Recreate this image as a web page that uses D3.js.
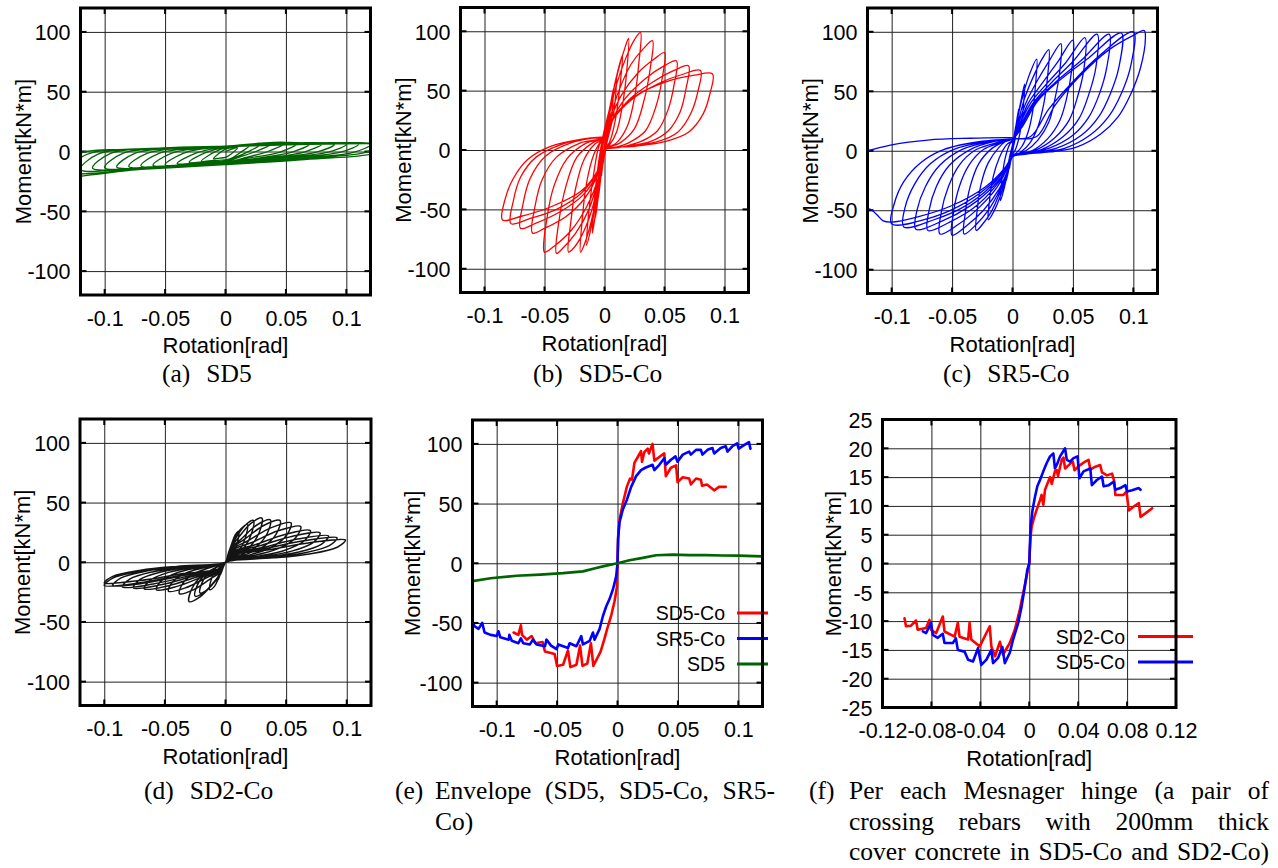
<!DOCTYPE html>
<html>
<head>
<meta charset="utf-8">
<script src="https://cdn.jsdelivr.net/npm/d3@7"></script>
<style>
  body { margin: 0; background: #fff; }
</style>
</head>
<body>
<svg id="fig" width="1278" height="868"></svg>
<script>
// ---- ticks ----
const rotTicks = [-0.1, -0.05, 0, 0.05, 0.1];
const rotTickLabels = ["-0.1", "-0.05", "0", "0.05", "0.1"];
const momTicks = [-100, -50, 0, 50, 100];
const momTickLabels = ["-100", "-50", "0", "50", "100"];
const hingeRotTicks = [-0.12, -0.08, -0.04, 0, 0.04, 0.08, 0.12];
const hingeRotTickLabels = ["-0.12", "-0.08", "-0.04", "0", "0.04", "0.08", "0.12"];
const hingeMomTicks = [-25, -20, -15, -10, -5, 0, 5, 10, 15, 20, 25];
const hingeMomTickLabels = ["-25", "-20", "-15", "-10", "-5", "0", "5", "10", "15", "20", "25"];

// ---- (a) SD5 hysteresis, one array per cycle of [rotation, moment] ----
const sd5Loops = [
  [[0,0],[0.005,2],[0.01,3],[0.006,-1],[0,-5],[-0.005,-5.5],[-0.01,-6],[-0.006,-2],[0,2]],
  [[0.01,4],[0.02,5],[0.012,-1],[0.006,-5],[0,-7],[-0.01,-7.5],[-0.02,-8],[-0.012,-2],[-0.006,1],[0,3]],
  [[0.015,5.5],[0.03,6.5],[0.018,-0.5],[0.009,-4.5],[0,-8],[-0.015,-8.5],[-0.03,-9],[-0.018,-1.5],[-0.009,1.5],[0,3.5]],
  [[0.02,6],[0.04,7],[0.025,0],[0.012,-4.5],[0,-8.5],[-0.02,-9.5],[-0.04,-10],[-0.025,-1.5],[-0.012,2],[0,4]],
  [[0.025,6.5],[0.05,7.5],[0.035,0],[0.017,-5],[0,-9],[-0.025,-10.5],[-0.05,-11],[-0.035,-1.5],[-0.017,2.5],[0,4]],
  [[0.03,6.5],[0.06,7],[0.045,-0.5],[0.022,-5],[0,-9],[-0.03,-11],[-0.06,-11.5],[-0.045,-1.5],[-0.022,2.5],[0,4]],
  [[0.035,6.5],[0.07,6.5],[0.055,-0.5],[0.027,-5.5],[0,-9],[-0.035,-11],[-0.07,-12],[-0.055,-1.5],[-0.027,2.5],[0,4]],
  [[0.04,6.5],[0.08,6.5],[0.065,-0.5],[0.032,-5.5],[0,-9.5],[-0.04,-11.5],[-0.08,-12.5],[-0.065,-1.5],[-0.032,3],[0,4.5]],
  [[0.045,6.5],[0.09,6],[0.075,-0.5],[0.037,-5.5],[0,-9.5],[-0.045,-12],[-0.09,-13],[-0.075,-1.5],[-0.037,3],[0,4.5]],
  [[0.05,6.5],[0.1,6],[0.085,-0.5],[0.042,-5.5],[0,-9.5],[-0.05,-12],[-0.1,-13.5],[-0.085,-1.5],[-0.042,3],[0,4.5]],
  [[0.055,6.5],[0.11,6],[0.095,-0.5],[0.047,-6],[0,-10],[-0.055,-12.5],[-0.11,-14],[-0.095,-1.5],[-0.047,3],[0,4.5]],
  [[0.06,6.5],[0.12,5.8],[0.105,-1],[0.052,-6],[0,-10],[-0.06,-13],[-0.12,-15],[-0.105,-2],[-0.052,3],[0,4.5]],
  [[0.065,6.3],[0.13,5.5],[0.115,-1],[0.057,-6.5],[0,-10.5],[-0.065,-14],[-0.13,-17],[-0.115,-2.5],[-0.057,2.5],[0,4]],
  [[0.07,6],[0.14,5],[0.125,-1.5],[0.062,-7],[0,-11],[-0.07,-15],[-0.14,-19.5],[-0.125,-3],[-0.062,2],[0,3.5]]
];

// ---- (b) SD5-Co hysteresis ----
const sd5CoLoops = [
  [[0,0],[0.001,10],[0.0025,20],[0.0015,10],[0,3],[-0.001,-8],[-0.0025,-22],[-0.0015,-10],[0,4]],
  [[0.002,18],[0.005,38],[0.0035,20],[0.001,5],[-0.002,-14],[-0.005,-40],[-0.0035,-20],[-0.001,6]],
  [[0.003,26],[0.0075,52],[0.0055,26],[0.0015,6],[-0.003,-22],[-0.0075,-57],[-0.0055,-26],[-0.0015,7]],
  [[0.004,32],[0.01,62],[0.0075,30],[0.002,6],[-0.004,-28],[-0.01,-70],[-0.0075,-32],[-0.002,8]],
  [[0.005,38],[0.01,62],[0.015,80],[0.013,55],[0.009,25],[0.004,6],[0,1],[-0.004,-25],[-0.01,-60],[-0.015,-80],[-0.013,-52],[-0.009,-20],[-0.004,5],[0,10]],
  [[0.004,34],[0.011,65],[0.017,86],[0.02,94],[0.0185,66],[0.015,38],[0.01,15],[0.004,4],[0,0],[-0.004,-24],[-0.011,-60],[-0.017,-80],[-0.02,-86],[-0.0185,-58],[-0.015,-28],[-0.009,-4],[-0.004,6],[0,10]],
  [[0.004,30],[0.01,55],[0.018,78],[0.025,93],[0.03,99],[0.0285,72],[0.025,44],[0.019,20],[0.01,6],[0,0],[-0.004,-22],[-0.011,-52],[-0.02,-74],[-0.027,-84],[-0.03,-86],[-0.028,-60],[-0.024,-32],[-0.017,-8],[-0.008,5],[0,10]],
  [[0.005,28],[0.012,50],[0.022,72],[0.033,86],[0.04,92],[0.038,68],[0.033,42],[0.025,18],[0.013,6],[0,0],[-0.004,-20],[-0.013,-50],[-0.024,-70],[-0.035,-83],[-0.04,-87],[-0.038,-60],[-0.032,-30],[-0.023,-6],[-0.01,6],[0,11]],
  [[0.005,26],[0.014,46],[0.028,65],[0.042,77],[0.05,82],[0.048,60],[0.043,37],[0.034,16],[0.02,6],[0.008,2],[0,0],[-0.004,-20],[-0.015,-48],[-0.028,-68],[-0.042,-81],[-0.05,-86],[-0.048,-58],[-0.042,-30],[-0.031,-7],[-0.015,6],[0,11]],
  [[0.006,25],[0.017,43],[0.034,60],[0.05,71],[0.06,75],[0.058,55],[0.053,34],[0.044,16],[0.03,7],[0.012,2],[0,0],[-0.005,-19],[-0.016,-40],[-0.032,-56],[-0.05,-66],[-0.06,-70],[-0.058,-48],[-0.052,-25],[-0.04,-6],[-0.02,6],[0,11]],
  [[0.007,26],[0.02,42],[0.04,57],[0.058,67],[0.07,71],[0.068,52],[0.063,32],[0.053,16],[0.038,7],[0.018,3],[0,0],[-0.005,-18],[-0.018,-38],[-0.037,-52],[-0.058,-62],[-0.07,-66],[-0.068,-46],[-0.062,-24],[-0.049,-5],[-0.028,6],[-0.01,10],[0,11]],
  [[0.008,27],[0.022,42],[0.045,56],[0.066,64],[0.08,67],[0.078,50],[0.072,31],[0.061,15],[0.044,7],[0.02,3],[0,0],[-0.006,-18],[-0.019,-36],[-0.04,-50],[-0.063,-58],[-0.078,-62],[-0.076,-43],[-0.07,-23],[-0.057,-6],[-0.035,5],[-0.012,10],[0,11]],
  [[0.008,28],[0.025,45],[0.05,57],[0.075,63],[0.09,64],[0.088,48],[0.082,30],[0.07,15],[0.05,7],[0.025,3],[0,0],[-0.006,-18],[-0.02,-35],[-0.045,-48],[-0.07,-56],[-0.085,-59],[-0.083,-42],[-0.076,-24],[-0.064,-8],[-0.045,3],[-0.02,9],[0,11]]
];

// ---- (c) SR5-Co hysteresis ----
const sr5CoLoops = [
  [[0,0],[0.0025,20],[0.001,6],[0,1],[-0.0025,-15],[-0.001,-3],[0,3]],
  [[0.002,15],[0.005,35],[0.003,14],[0,0],[-0.002,-10],[-0.005,-25],[-0.003,-8],[0,5]],
  [[0.003,22],[0.007,42],[0.01,56],[0.009,38],[0.006,14],[0.002,0],[0,-3],[-0.003,-14],[-0.007,-32],[-0.01,-42],[-0.009,-26],[-0.006,-6],[-0.002,6],[0,8]],
  [[0.003,22],[0.008,44],[0.014,64],[0.02,77],[0.019,55],[0.017,35],[0.013,16],[0.008,4],[0.003,-2],[0,-4],[-0.003,-14],[-0.008,-32],[-0.014,-48],[-0.02,-58],[-0.019,-42],[-0.016,-22],[-0.011,-6],[-0.005,5],[0,9]],
  [[0.004,22],[0.01,44],[0.018,64],[0.025,78],[0.03,85],[0.029,62],[0.026,40],[0.021,20],[0.014,6],[0.007,-1],[0,-5],[-0.003,-14],[-0.01,-34],[-0.018,-52],[-0.025,-62],[-0.03,-67],[-0.029,-48],[-0.026,-28],[-0.02,-10],[-0.011,3],[-0.004,9],[0,10]],
  [[0.004,20],[0.011,40],[0.02,58],[0.03,75],[0.04,90],[0.039,66],[0.035,43],[0.03,24],[0.021,9],[0.011,0],[0.003,-3],[0,-5],[-0.003,-14],[-0.01,-32],[-0.02,-50],[-0.03,-62],[-0.04,-70],[-0.039,-52],[-0.035,-30],[-0.028,-11],[-0.017,2],[-0.006,8],[0,10]],
  [[0.005,20],[0.013,40],[0.024,56],[0.037,74],[0.05,93],[0.049,68],[0.045,45],[0.039,25],[0.029,10],[0.016,0],[0.004,-3],[0,-5],[-0.003,-14],[-0.011,-32],[-0.024,-50],[-0.038,-63],[-0.05,-71],[-0.049,-53],[-0.044,-30],[-0.036,-12],[-0.024,1],[-0.009,7],[0,10]],
  [[0.005,20],[0.015,40],[0.028,56],[0.044,74],[0.06,95],[0.059,68],[0.054,46],[0.047,26],[0.035,11],[0.02,1],[0.005,-3],[0,-5],[-0.004,-14],[-0.013,-31],[-0.028,-48],[-0.045,-62],[-0.06,-70],[-0.059,-52],[-0.053,-30],[-0.044,-12],[-0.03,1],[-0.012,7],[0,10]],
  [[0.006,20],[0.017,40],[0.032,57],[0.05,75],[0.07,98],[0.069,70],[0.063,47],[0.055,27],[0.042,12],[0.024,1],[0.007,-3],[0,-5],[-0.004,-14],[-0.015,-31],[-0.032,-48],[-0.052,-60],[-0.07,-67],[-0.069,-50],[-0.063,-30],[-0.052,-12],[-0.035,1],[-0.014,8],[0,10]],
  [[0.007,20],[0.019,41],[0.036,58],[0.057,76],[0.08,98],[0.078,70],[0.072,48],[0.063,28],[0.05,13],[0.03,2],[0.008,-3],[0,-5],[-0.004,-14],[-0.016,-30],[-0.036,-47],[-0.058,-59],[-0.08,-66],[-0.079,-50],[-0.072,-30],[-0.06,-12],[-0.042,1],[-0.017,8],[0,10]],
  [[0.008,20],[0.021,42],[0.04,60],[0.063,78],[0.09,99],[0.088,70],[0.081,48],[0.071,28],[0.057,13],[0.036,2],[0.009,-3],[0,-5],[-0.005,-14],[-0.018,-30],[-0.04,-47],[-0.065,-58],[-0.09,-64],[-0.089,-48],[-0.081,-28],[-0.068,-11],[-0.049,1],[-0.02,8],[0,10]],
  [[0.015,12],[0.03,35],[0.05,58],[0.072,80],[0.1,100],[0.098,72],[0.09,48],[0.079,28],[0.064,13],[0.043,2],[0.01,-3],[0,-5],[-0.005,-14],[-0.02,-30],[-0.045,-47],[-0.07,-57],[-0.1,-61.5],[-0.098,-45],[-0.09,-26],[-0.076,-10],[-0.057,1],[-0.025,8],[0,10]],
  [[0.02,12],[0.035,38],[0.055,62],[0.08,85],[0.1,97],[0.109,101],[0.11,96],[0.106,70],[0.098,48],[0.087,28],[0.073,14],[0.053,3],[0.031,-1],[0.009,-3],[0,-5],[-0.006,-14],[-0.022,-30],[-0.05,-46],[-0.08,-56],[-0.1,-60],[-0.107,-59],[-0.112,-54],[-0.118,-49],[-0.124,-50],[-0.135,-45],[-0.14,-20],[-0.128,-2],[-0.12,0],[-0.1,5],[-0.07,9],[-0.035,10.5],[-0.005,11],[0,11]]
];

// ---- (d) SD2-Co hysteresis ----
const sd2CoLoops = [
  [[0,0],[0.002,5],[0.0035,10],[0.005,15],[0.004,9],[0.002,3],[0,0],
   [-0.002,-4.4],[-0.004,-9],[-0.006,-14.5],[-0.0053,-9],[-0.003,-3],[0,0]],
  [[0.0025,8],[0.005,15],[0.008,23],[0.011,26],[0.0102,18],[0.0077,10],[0.0045,5],[0.002,2],[0,0],
   [-0.003,-6.9],[-0.0055,-12.7],[-0.0091,-20.2],[-0.013,-23],[-0.0121,-15.6],[-0.0091,-8.7],[-0.0052,-4.6],[-0.002,-1.8],[0,0]],
  [[0.003,9.5],[0.0063,17.4],[0.0126,27.8],[0.018,31.6],[0.0167,21.5],[0.0126,12],[0.0072,6.3],[0.003,2.5],[0,0],
   [-0.004,-7.7],[-0.0074,-14.1],[-0.0147,-22.6],[-0.021,-25.7],[-0.0195,-17.5],[-0.0147,-9.8],[-0.0084,-5.1],[-0.004,-2.1],[0,0]],
  [[0.004,10.5],[0.008,19.3],[0.0161,30.8],[0.023,35],[0.0214,23.8],[0.0161,13.3],[0.0092,7],[0.004,2.8],[0,0],
   [-0.004,-8.6],[-0.0088,-15.7],[-0.0175,-25.1],[-0.025,-28.5],[-0.0233,-19.4],[-0.0175,-10.8],[-0.01,-5.7],[-0.005,-2.3],[0,0]],
  [[0.004,11.1],[0.0105,20.4],[0.021,32.6],[0.03,37],[0.0279,25.2],[0.021,14.1],[0.012,7.4],[0.005,3],[0,0],
   [-0.004,-9.9],[-0.0105,-18.2],[-0.021,-29],[-0.03,-33],[-0.0279,-22.4],[-0.021,-12.5],[-0.012,-6.6],[-0.005,-2.6],[0,0]],
  [[0.004,10.7],[0.013,19.5],[0.0259,31.2],[0.037,35.5],[0.0344,24.1],[0.0259,13.5],[0.0148,7.1],[0.006,2.8],[0,0],
   [-0.004,-7.9],[-0.0133,-14.5],[-0.0266,-23.1],[-0.038,-26.3],[-0.0353,-17.9],[-0.0266,-10],[-0.0152,-5.3],[-0.006,-2.1],[0,0]],
  [[0.004,10.5],[0.0158,19.3],[0.0315,30.8],[0.045,35],[0.0419,23.8],[0.0315,13.3],[0.018,7],[0.006,2.8],[0,0],
   [-0.004,-7.3],[-0.0165,-13.4],[-0.0329,-21.4],[-0.047,-24.3],[-0.0437,-16.5],[-0.0329,-9.2],[-0.0188,-4.9],[-0.006,-1.9],[0,0]],
  [[0.004,9.9],[0.0189,18.2],[0.0378,29],[0.054,33],[0.0502,22.4],[0.0378,12.5],[0.0216,6.6],[0.006,2.6],[0,0],
   [-0.004,-6.9],[-0.02,-12.7],[-0.0399,-20.2],[-0.057,-23],[-0.053,-15.6],[-0.0399,-8.7],[-0.0228,-4.6],[-0.006,-1.8],[0,0]],
  [[0.004,9],[0.0217,16.5],[0.0434,26.4],[0.062,30],[0.0577,20.4],[0.0434,11.4],[0.0248,6],[0.006,2.4],[0,0],
   [-0.004,-6.7],[-0.0235,-12.3],[-0.0469,-19.6],[-0.067,-22.3],[-0.0623,-15.2],[-0.0469,-8.5],[-0.0268,-4.5],[-0.006,-1.8],[0,0]],
  [[0.004,8],[0.0245,14.6],[0.049,23.3],[0.07,26.5],[0.0651,18],[0.049,10.1],[0.028,5.3],[0.006,2.1],[0,0],
   [-0.004,-6.5],[-0.0266,-11.8],[-0.0532,-18.9],[-0.076,-21.5],[-0.0707,-14.6],[-0.0532,-8.2],[-0.0304,-4.3],[-0.006,-1.7],[0,0]],
  [[0.004,7.4],[0.0273,13.5],[0.0546,21.6],[0.078,24.6],[0.0725,16.7],[0.0546,9.3],[0.0312,4.9],[0.006,2],[0,0],
   [-0.004,-6.2],[-0.0298,-11.4],[-0.0595,-18.2],[-0.085,-20.7],[-0.079,-14.1],[-0.0595,-7.9],[-0.034,-4.1],[-0.006,-1.7],[0,0]],
  [[0.004,6.6],[0.0298,12.1],[0.0595,19.4],[0.085,22],[0.079,15],[0.0595,8.4],[0.034,4.4],[0.006,1.8],[0,0],
   [-0.004,-5.9],[-0.0326,-10.7],[-0.0651,-17.2],[-0.093,-19.5],[-0.0865,-13.3],[-0.0651,-7.4],[-0.0372,-3.9],[-0.006,-1.6],[0,0]],
  [[0.004,6.2],[0.0322,11.3],[0.0644,18],[0.092,20.5],[0.0856,13.9],[0.0644,7.8],[0.0368,4.1],[0.006,1.6],[0,0],
   [-0.004,-5.2],[-0.035,-9.5],[-0.07,-15.2],[-0.1,-17.3],[-0.093,-11.8],[-0.07,-6.6],[-0.04,-3.5],[-0.006,-1.4],[0,0]],
  [[0.004,5.6],[0.0347,10.2],[0.0693,16.3],[0.099,18.5],[0.0921,12.6],[0.0693,7],[0.0396,3.7],[0.006,1.5],[0,0],
   [-0.004,-5.9],[-0.035,-10.7],[-0.07,-17.2],[-0.1,-19.5],[-0.093,-13.3],[-0.07,-7.4],[-0.04,-3.9],[-0.006,-1.6],[0,0]]
];

// ---- (e) envelopes ----
const envSD5Co = [[-0.086,-58],[-0.082,-60],[-0.080,-52],[-0.079,-60],[-0.075,-64],[-0.071,-61],[-0.068,-67],[-0.062,-66],[-0.060,-74],[-0.052,-76],[-0.050,-86],[-0.045,-85],[-0.041,-73],[-0.039,-87],[-0.034,-85],[-0.031,-69],[-0.029,-86],[-0.025,-84],[-0.022,-67],[-0.020,-86],[-0.017,-80],[-0.014,-74],[-0.011,-64],[-0.008,-53],[-0.005,-43],[-0.0025,-32],[-0.0005,-20],[0,0],[0.0005,22],[0.0016,36],[0.0044,50],[0.0077,64],[0.0104,71],[0.012,70],[0.014,84],[0.0168,89],[0.0195,94],[0.0203,85],[0.0222,93],[0.025,96],[0.026,92],[0.029,100],[0.0305,86],[0.0346,89],[0.0387,92],[0.040,73],[0.0442,80],[0.0485,82],[0.0497,68],[0.054,72],[0.0593,71],[0.0607,66],[0.065,71],[0.069,70],[0.070,65],[0.074,66],[0.079,62],[0.080,61],[0.084,64],[0.0896,64]];
const envSR5Co = [[-0.12,-50],[-0.118,-53],[-0.115,-55],[-0.112,-50],[-0.11,-58],[-0.105,-60],[-0.100,-61],[-0.0985,-57],[-0.097,-62],[-0.090,-64],[-0.0895,-60],[-0.0875,-65],[-0.082,-67],[-0.080,-63],[-0.078,-67],[-0.0725,-68],[-0.070,-64],[-0.067,-68],[-0.060,-69.5],[-0.0588,-64],[-0.055,-69],[-0.0505,-72],[-0.049,-68],[-0.041,-71],[-0.0396,-67],[-0.034,-69.5],[-0.030,-61],[-0.0286,-68],[-0.023,-65],[-0.0203,-58],[-0.019,-64],[-0.0148,-55],[-0.012,-44],[-0.0093,-36],[-0.0066,-30],[-0.0038,-22],[-0.0011,-11],[0,0],[0.0005,20],[0.0016,34],[0.0044,45],[0.0077,53],[0.0113,64],[0.0154,73],[0.0195,78],[0.023,80],[0.029,82.5],[0.0305,78],[0.0346,82.5],[0.0387,88],[0.040,82.5],[0.044,86.5],[0.048,89.5],[0.0497,85],[0.054,91],[0.0593,93.5],[0.0607,91],[0.065,95],[0.069,95],[0.0703,91],[0.0745,95],[0.0786,96.5],[0.080,92],[0.0854,96.5],[0.0896,98],[0.091,93.5],[0.095,98],[0.099,100.5],[0.1003,96],[0.1047,99],[0.1088,101.5],[0.110,96]];
const envSD5 = [[-0.12,-15],[-0.105,-12.5],[-0.0835,-10.5],[-0.064,-9.5],[-0.045,-8.3],[-0.0286,-6.8],[-0.0176,-4],[-0.0093,-2],[0,0],[0.0099,2.5],[0.0209,4.5],[0.0319,6.7],[0.0456,7.2],[0.0593,6.8],[0.073,6.8],[0.0868,6.5],[0.1,6.4],[0.12,5.8]];
const envNames = ["SD5-Co", "SR5-Co", "SD5"];

// ---- (f) per Mesnager hinge ----
const hingeSD2Co = [[-0.102,-9.5],[-0.1008,-10.9],[-0.0967,-10.8],[-0.0926,-9.9],[-0.0912,-11.5],[-0.0844,-11.2],[-0.0816,-9.8],[-0.0803,-11.5],[-0.0762,-12.1],[-0.0707,-9.2],[-0.0693,-11.8],[-0.061,-12.7],[-0.0584,-10.3],[-0.057,-12.7],[-0.05,-13.2],[-0.0488,-10.3],[-0.0474,-13.2],[-0.0405,-14.4],[-0.0323,-10.9],[-0.031,-14.4],[-0.028,-16.1],[-0.024,-13.6],[-0.0214,-15.8],[-0.0159,-13.8],[-0.0118,-11.5],[-0.0077,-8],[-0.0049,-5.1],[-0.0022,-2.3],[0,0],[0.0005,2.4],[0.0011,4.7],[0.002,6.4],[0.004,8],[0.006,9.3],[0.0088,11],[0.0101,11.9],[0.0115,10.2],[0.0129,12.8],[0.017,15],[0.0184,13.8],[0.021,16],[0.0225,16.2],[0.0235,15.2],[0.0266,18],[0.028,18.4],[0.0293,16.5],[0.0334,17.3],[0.0356,17.7],[0.037,16.2],[0.041,17],[0.0458,17.7],[0.0485,18],[0.0499,16.3],[0.054,16.8],[0.058,17.1],[0.0595,15.8],[0.0636,15.3],[0.0677,15.6],[0.0696,14.2],[0.0704,11.9],[0.077,11.9],[0.0795,12.5],[0.0814,9.2],[0.0855,9.9],[0.0896,10.5],[0.091,8.1],[0.095,8.7],[0.1005,9.6]];
const hingeSD5Co = [[-0.087,-11.8],[-0.0844,-12.1],[-0.0803,-10.3],[-0.0789,-12.4],[-0.0748,-12.9],[-0.0707,-12.2],[-0.0693,-13.8],[-0.0625,-13.8],[-0.06,-13],[-0.0584,-15],[-0.0529,-15.3],[-0.05,-16.7],[-0.046,-17],[-0.0419,-14.7],[-0.0392,-17.6],[-0.035,-16.7],[-0.031,-15],[-0.0296,-17.3],[-0.0255,-16.4],[-0.022,-14.5],[-0.02,-17.3],[-0.0159,-15.5],[-0.0132,-13.2],[-0.009,-10.3],[-0.0063,-7.5],[-0.0036,-4],[-0.0016,-1.1],[0,0],[0.0011,6.4],[0.0027,9.3],[0.0047,11.6],[0.0066,13.4],[0.0088,14.5],[0.0115,16],[0.0142,17.4],[0.017,18.6],[0.0197,19.1],[0.021,16.5],[0.0225,17.1],[0.0252,18.6],[0.0293,20],[0.0307,18],[0.0334,17.7],[0.0362,18.3],[0.0395,18.6],[0.041,14.8],[0.0444,16],[0.0499,16.5],[0.0512,13.6],[0.0553,14.5],[0.0595,15.1],[0.0608,13.4],[0.065,13.6],[0.069,14.2],[0.0704,12.8],[0.0745,13.1],[0.0786,13.6],[0.08,12.5],[0.0841,12.7],[0.0896,13.1],[0.091,12.8]];
const hingeNames = ["SD2-Co", "SD5-Co"];

// ---- captions ----
const captionLabels = ["(a)", "(b)", "(c)", "(d)", "(e)", "(f)"];
const captionTexts = [
  ["SD5"], ["SD5-Co"], ["SR5-Co"], ["SD2-Co"],
  ["Envelope (SD5, SD5-Co, SR5-", "Co)"],
  ["Per each Mesnager hinge (a pair of", "crossing rebars with 200mm thick", "cover concrete in SD5-Co and SD2-Co)"]
];

const RED = "#ff0000", BLUE = "#0000ff", GREEN = "#006400", BLACK = "#141414";
const SANS = "'Liberation Sans', Arial, Helvetica, sans-serif";
const SERIF = "'Liberation Serif', 'Times New Roman', serif";
const TICK_SIZE = 21.5, TITLE_SIZE = 22, LEG_SIZE = 19.5, CAP_SIZE = 25.5;

const svg = d3.select("#fig");
const defs = svg.append("defs");

const stdAxes = { xTicks: rotTicks, xLabels: rotTickLabels, yTicks: momTicks, yLabels: momTickLabels, yDomain: [-120, 120] };
const panels = [
  Object.assign({ id: "a", left: 80.5, top: 8, width: 290, height: 287, ylab: -50,
    loops: sd5Loops, color: GREEN, lw: 1.3 }, stdAxes),
  Object.assign({ id: "b", left: 460.5, top: 7.5, width: 288, height: 285, ylab: -50,
    loops: sd5CoLoops, color: RED, lw: 1.3 }, stdAxes),
  Object.assign({ id: "c", left: 867.5, top: 8, width: 290, height: 285.5, ylab: -50,
    loops: sr5CoLoops, color: BLUE, lw: 1.3 }, stdAxes),
  Object.assign({ id: "d", left: 80, top: 419, width: 291, height: 286.5, ylab: -50,
    loops: sd2CoLoops, color: BLACK, lw: 1.5 }, stdAxes),
  Object.assign({ id: "e", left: 472.5, top: 420, width: 290, height: 286.5, ylab: -53,
    curves: [envSD5Co, envSR5Co, envSD5], colors: [RED, BLUE, GREEN], names: envNames,
    legend: { textX: 725, lineX0: 737, lineX1: 768, rows: [613, 638.5, 664] } }, stdAxes),
  { id: "f", left: 882.5, top: 419.5, width: 293.5, height: 288, ylab: -42,
    xTicks: hingeRotTicks, xLabels: hingeRotTickLabels, yTicks: hingeMomTicks, yLabels: hingeMomTickLabels,
    yDomain: [-25, 25],
    curves: [hingeSD2Co, hingeSD5Co], colors: [RED, BLUE], names: hingeNames,
    legend: { textX: 1125, lineX0: 1138, lineX1: 1193, rows: [636.5, 662] } }
];

function drawPanel(p) {
  const g = svg.append("g").attr("class", "panel-" + p.id);
  const x = d3.scaleLinear().domain([-0.12, 0.12]).range([p.left, p.left + p.width]);
  const y = d3.scaleLinear().domain(p.yDomain).range([p.top + p.height, p.top]);
  const bottom = p.top + p.height, right = p.left + p.width;

  // grid lines
  const gx = g.append("g").attr("transform", `translate(0,${bottom})`)
    .call(d3.axisBottom(x).tickValues(p.xTicks).tickSize(-p.height).tickFormat(""));
  const gy = g.append("g").attr("transform", `translate(${p.left},0)`)
    .call(d3.axisLeft(y).tickValues(p.yTicks).tickSize(-p.width).tickFormat(""));
  [gx, gy].forEach(a => {
    a.select(".domain").remove();
    a.selectAll("line").attr("stroke", "#222").attr("stroke-width", 1);
  });

  // inner tick marks on the frame
  const tk = g.append("g").attr("stroke", "#000").attr("stroke-width", 2);
  p.yTicks.forEach(v => {
    tk.append("line").attr("x1", p.left).attr("x2", p.left + 6).attr("y1", y(v)).attr("y2", y(v));
    tk.append("line").attr("x1", right - 6).attr("x2", right).attr("y1", y(v)).attr("y2", y(v));
  });
  p.xTicks.forEach(v => {
    tk.append("line").attr("y1", p.top).attr("y2", p.top + 6).attr("x1", x(v)).attr("x2", x(v));
    tk.append("line").attr("y1", bottom - 6).attr("y2", bottom).attr("x1", x(v)).attr("x2", x(v));
  });

  // tick labels
  const lx = g.append("g").attr("transform", `translate(0,${bottom})`)
    .call(d3.axisBottom(x).tickValues(p.xTicks).tickSize(0).tickPadding(15.5)
      .tickFormat((d, i) => p.xLabels[i]));
  const ly = g.append("g").attr("transform", `translate(${p.left},0)`)
    .call(d3.axisLeft(y).tickValues(p.yTicks).tickSize(0).tickPadding(10)
      .tickFormat((d, i) => p.yLabels[i]));
  [lx, ly].forEach(a => {
    a.select(".domain").remove();
    a.attr("font-family", SANS).attr("font-size", TICK_SIZE);
    a.selectAll("text").attr("fill", "#000");
  });
  ly.selectAll("text").attr("dy", "0.36em");

  // axis titles
  g.append("text").attr("x", p.left + p.width / 2).attr("y", bottom + 58)
    .attr("text-anchor", "middle").attr("font-family", SANS).attr("font-size", TITLE_SIZE)
    .text("Rotation[rad]");
  g.append("text")
    .attr("transform", `translate(${p.left + p.ylab},${p.top + p.height / 2}) rotate(-90)`)
    .attr("text-anchor", "middle").attr("font-family", SANS).attr("font-size", TITLE_SIZE)
    .text("Moment[kN*m]");

  // data
  defs.append("clipPath").attr("id", "clip-" + p.id)
    .append("rect").attr("x", p.left).attr("y", p.top).attr("width", p.width).attr("height", p.height);
  const plot = g.append("g").attr("clip-path", `url(#clip-${p.id})`);
  if (p.loops) {
    const loopLine = d3.line().x(d => x(d[0])).y(d => y(d[1])).curve(d3.curveCatmullRom.alpha(0.5));
    plot.append("path").datum(p.loops.flat())
      .attr("d", loopLine).attr("fill", "none")
      .attr("stroke", p.color).attr("stroke-width", p.lw).attr("stroke-linejoin", "round");
  }
  if (p.curves) {
    const envLine = d3.line().x(d => x(d[0])).y(d => y(d[1]));
    p.curves.forEach((c, i) => {
      plot.append("path").datum(c).attr("d", envLine).attr("fill", "none")
        .attr("stroke", p.colors[i]).attr("stroke-width", 2.6)
        .attr("stroke-linejoin", "round").attr("stroke-linecap", "round");
    });
    const lg = g.append("g");
    p.names.forEach((n, i) => {
      const ry = p.legend.rows[i];
      lg.append("text").attr("x", p.legend.textX).attr("y", ry).attr("dy", "0.36em")
        .attr("text-anchor", "end").attr("font-family", SANS).attr("font-size", LEG_SIZE).text(n);
      lg.append("line").attr("x1", p.legend.lineX0).attr("x2", p.legend.lineX1)
        .attr("y1", ry).attr("y2", ry).attr("stroke", p.colors[i]).attr("stroke-width", 3);
    });
  }

  // frame
  g.append("rect").attr("x", p.left).attr("y", p.top).attr("width", p.width).attr("height", p.height)
    .attr("fill", "none").attr("stroke", "#000").attr("stroke-width", 3);
}

panels.forEach(drawPanel);

// ---- captions ----
function caption(idx, o) {
  const lab = svg.append("text").attr("x", o.labelX).attr("y", o.baseY)
    .attr("font-family", SERIF).attr("font-size", CAP_SIZE).text(captionLabels[idx]);
  const textX = o.textX != null ? o.textX : o.labelX + lab.node().getComputedTextLength() + 16;
  captionTexts[idx].forEach((line, i) => {
    const yy = o.baseY + i * (o.lineH || 0);
    const justify = o.rightX && o.justify[i];
    if (!justify) {
      svg.append("text").attr("x", textX).attr("y", yy)
        .attr("font-family", SERIF).attr("font-size", CAP_SIZE).text(line);
      return;
    }
    const words = line.split(" ");
    const nodes = words.map(w => svg.append("text").attr("y", yy)
      .attr("font-family", SERIF).attr("font-size", CAP_SIZE).text(w));
    const widths = nodes.map(n => n.node().getComputedTextLength());
    const gap = (o.rightX - textX - d3.sum(widths)) / (words.length - 1);
    let cx = textX;
    nodes.forEach((n, k) => { n.attr("x", cx); cx += widths[k] + gap; });
  });
}

caption(0, { labelX: 162, baseY: 382 });
caption(1, { labelX: 533, baseY: 382 });
caption(2, { labelX: 943, baseY: 382 });
caption(3, { labelX: 144, baseY: 799 });
caption(4, { labelX: 395, textX: 435, baseY: 799, lineH: 31, rightX: 775, justify: [true, false] });
caption(5, { labelX: 809, textX: 849, baseY: 799, lineH: 30.5, rightX: 1269, justify: [true, true, true] });
</script>
</body>
</html>
